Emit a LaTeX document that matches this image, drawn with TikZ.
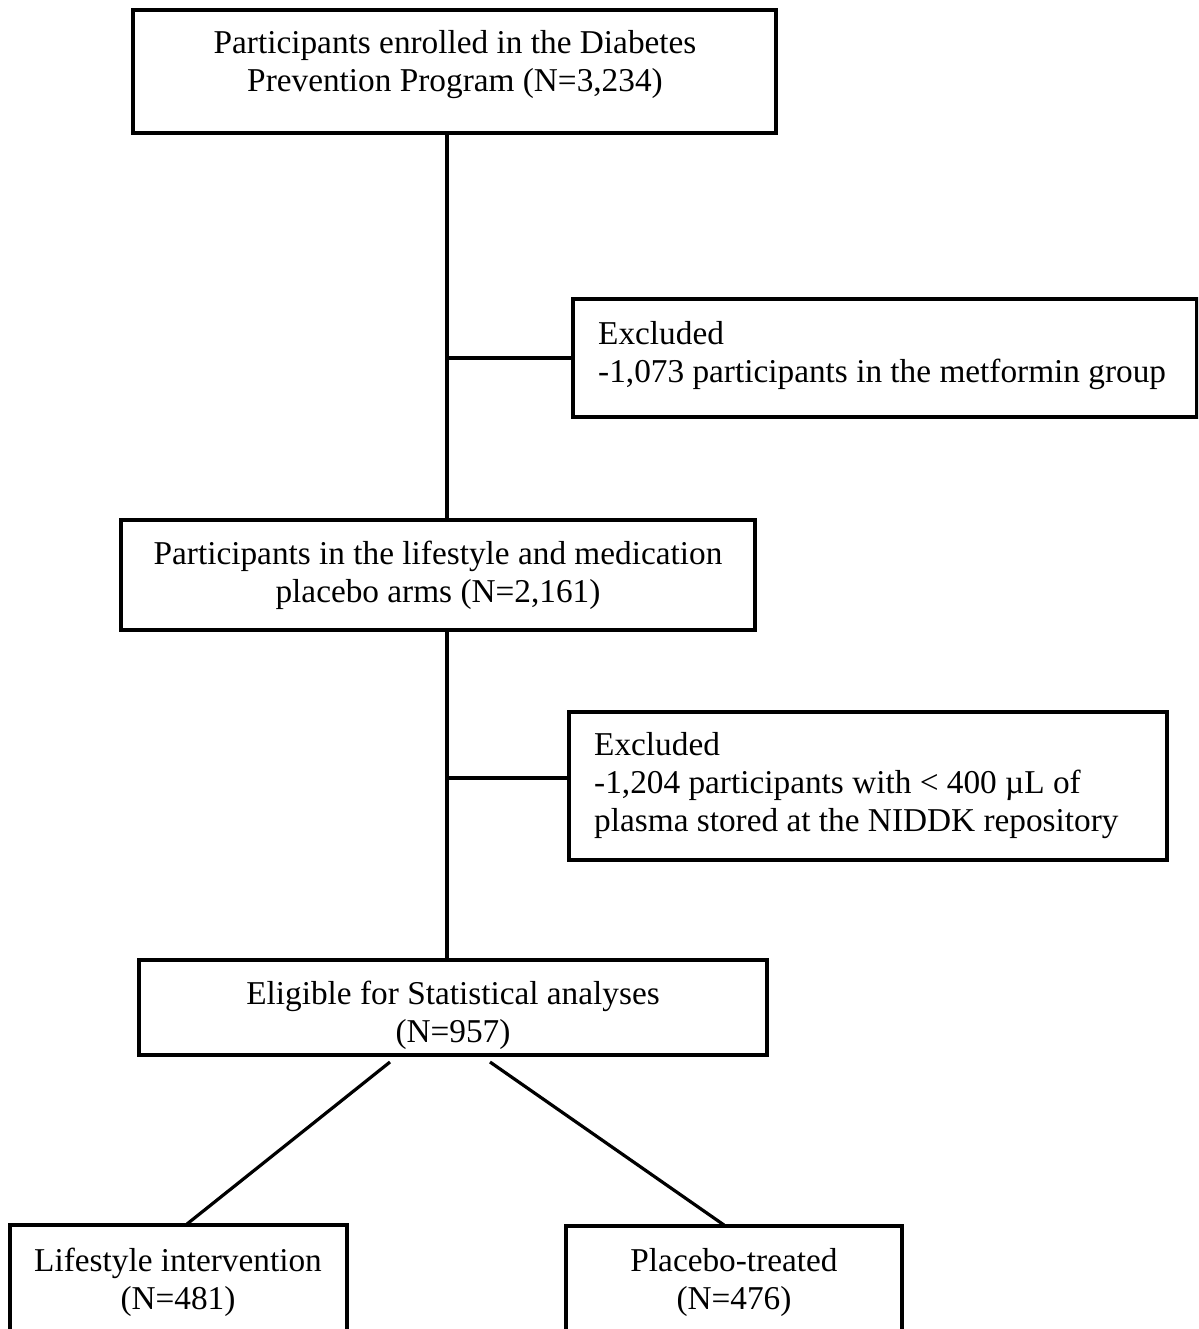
\documentclass[tikz,border=0pt]{standalone}
\usepackage{fontspec}
\setmainfont{Liberation Serif}
\begin{document}
\begin{tikzpicture}[x=1pt,y=-1pt,
  box/.style={draw,line width=3.2pt,inner sep=0pt,outer sep=0pt},
  ln/.style={line width=3.2pt},
  txt/.style={inner sep=0pt,font=\fontsize{33.3}{38}\selectfont}]
\clip (0,0) rectangle (1198,1329);
% boxes
\node[box,minimum width=643pt,minimum height=123pt] (b1) at (454.5,71.5) {};
\node[box,minimum width=624pt,minimum height=118pt] (e1) at (885,358) {};
\node[box,minimum width=634pt,minimum height=110pt] (b2) at (438,575) {};
\node[box,minimum width=598pt,minimum height=148pt] (e2) at (868,786) {};
\node[box,minimum width=628pt,minimum height=95pt] (b3) at (453,1007.5) {};
\node[box,minimum width=337pt,minimum height=175pt] (b4) at (178.5,1312.5) {};
\node[box,minimum width=336pt,minimum height=174pt] (b5) at (734,1313) {};
% texts
\node[txt,align=center] (t1) at (455,65) {Participants enrolled in the Diabetes\\Prevention Program (N=3,234)};
\node[txt,align=left,anchor=west] (t2) at (598,355.5) {Excluded\\-1,073 participants in the metformin group};
\node[txt,align=center] (t3) at (438,575) {Participants in the lifestyle and medication\\placebo arms (N=2,161)};
\node[txt,align=left,anchor=west] (t4) at (594,786) {Excluded\\-1,204 participants with < 400 µL of\\plasma stored at the NIDDK repository};
\node[txt,align=center] (t5) at (453,1015) {Eligible for Statistical analyses\\(N=957)};
\node[txt,align=center] (t6) at (178,1282) {Lifestyle intervention\\(N=481)};
\node[txt,align=center] (t7) at (734,1282) {Placebo-treated\\(N=476)};
% connectors
\coordinate (j1) at (447,358);
\coordinate (j2) at (447,778);
\coordinate (d1) at (390,1062);
\coordinate (d2) at (187,1224);
\coordinate (d3) at (490,1062);
\coordinate (d4) at (724,1225);
\draw[ln] (b1.south -| j1) -- (b2.north -| j1);
\draw[ln] (j1) -- (e1.west);
\draw[ln] (b2.south -| j2) -- (b3.north -| j2);
\draw[ln] (j2) -- (e2.west |- j2);
\draw[ln] (d1) -- (d2);
\draw[ln] (d3) -- (d4);
\end{tikzpicture}
\end{document}
